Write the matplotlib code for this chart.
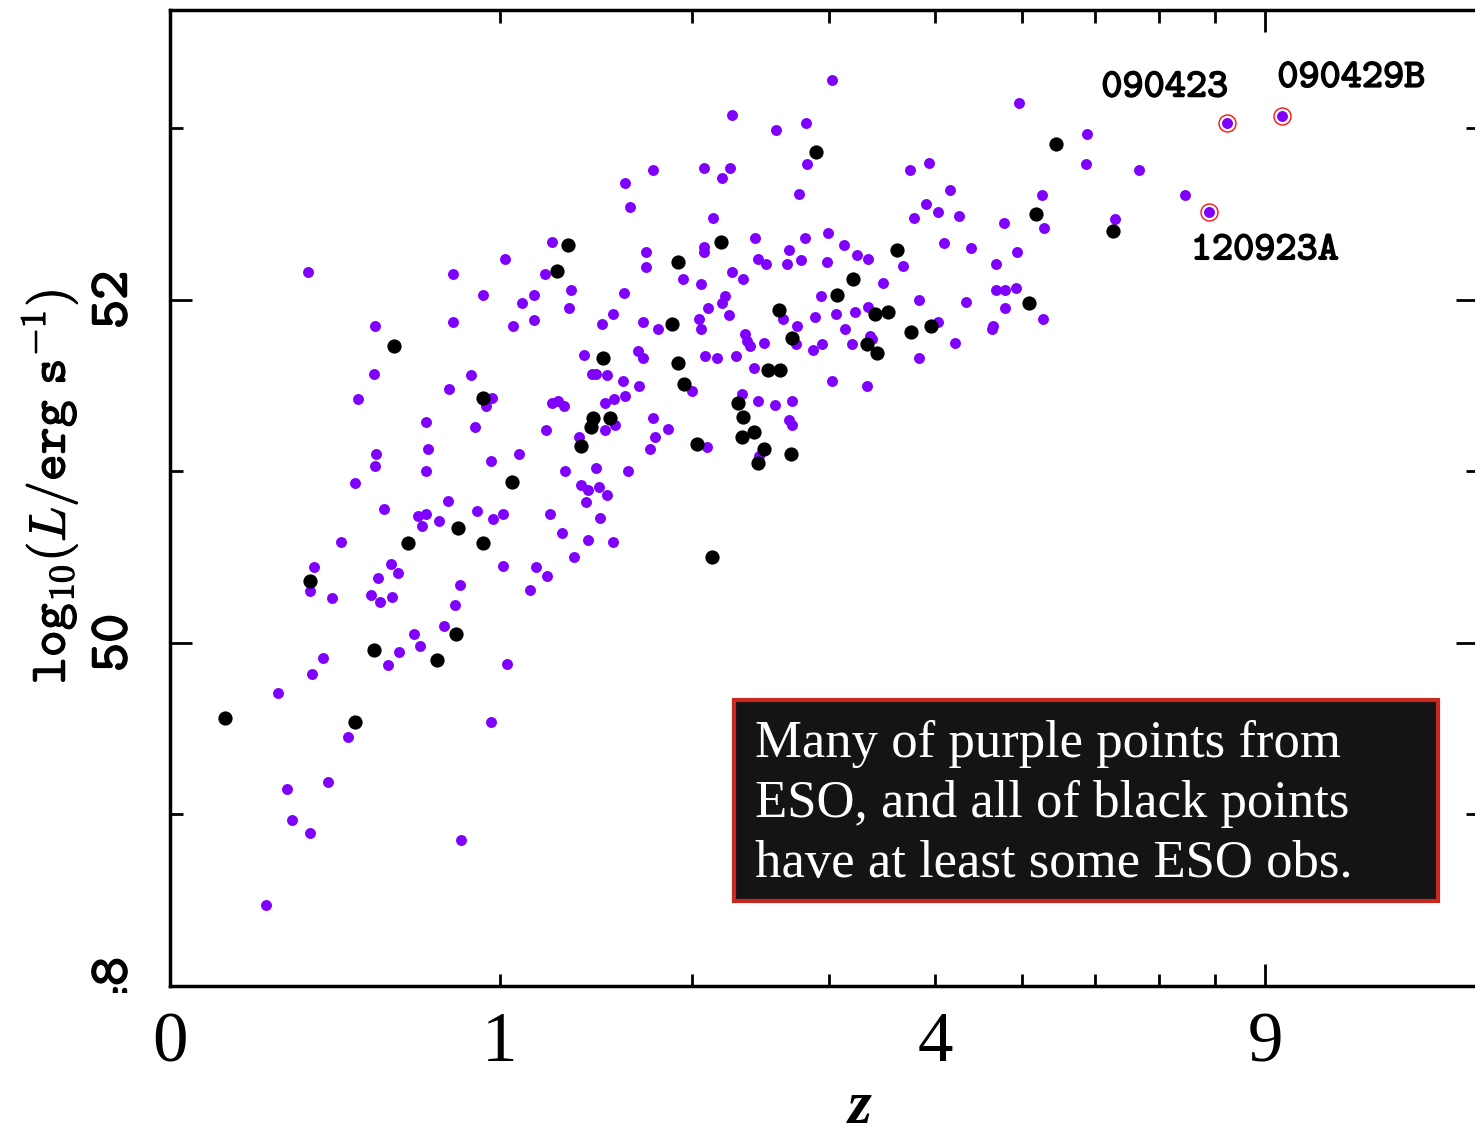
import numpy as np
import matplotlib
matplotlib.use("Agg")
import matplotlib.pyplot as plt
import matplotlib.patheffects as pe
from matplotlib.patches import Rectangle
from matplotlib.transforms import Bbox

plt.rcParams['mathtext.fontset'] = 'cm'

# ---------------- data ----------------
purple_z = [
    .337, .813, 1.023, 1.233, 1.201, .931, 1.150, 1.096, 1.324, 1.315,
    .539, .813, 1.057, 1.150, .536, .883, .798, .968, .944, .485,
    1.233, 1.262, 1.290, .714, .899, 1.205, 1.363, .542, .539, .721,
    .714, .964, 1.083, 1.295, 1.373, .476, .568, .794, .685, .714,
    .699, .760, .907, .972, 1.014, 1.224, 1.281, 1.339, .433, .354,
    .592, .615, 1.014, 1.159, 1.210, .549,
    .342, .406, 1.132, .526, .555, .595, .840, .821, .779, .671,
    .692, .619, .582, 1.031, .380, .348, .255, .454, .964, .395,
    .279, .292, .342, .844, .224,
    3.025, 2.262, 2.577, 2.811, 2.819, 1.762, 2.074, 2.248, 2.194, 1.604,
    1.632, 2.754, 2.134, 3.742, 3.936, 3.904, 3.782, 4.029, 2.423, 2.803,
    2.991, 3.127, 2.074, 2.074, 1.722, 1.722, 2.444, 2.503, 2.677, 2.661,
    2.770, 2.983, 3.242, 3.341, 3.672, 2.262, 2.337, 1.942, 2.055, 3.480,
    1.598, 2.932, 2.214, 2.194, 2.101, 1.539, 1.481, 1.704, 1.792, 2.042,
    2.055, 2.241, 2.630, 2.884, 3.058, 3.224, 3.341, 3.832, 2.739, 2.352,
    2.366, 2.387, 2.731, 2.488, 2.867, 2.941, 3.136, 3.198, 3.360, 3.378,
    3.832, 1.388, 1.676, 1.704, 2.081, 2.160, 2.289,
    2.415, 3.025, 3.332, 1.429, 1.450, 1.507, 1.593, 1.681, 1.998, 1.497,
    1.544, 1.604, 2.330, 2.444, 2.570, 2.700, 1.550, 1.497, 1.762, 1.851,
    1.774, 1.745, 2.677, 2.700, 2.094, 2.451, 1.450, 1.620, 1.409, 1.465,
    1.507, 1.399, 1.470, 1.409, 1.539,
    4.963, 5.881, 5.866, 6.674, 4.158, 4.255, 5.259, 5.285, 4.778, 7.455,
    6.298, 4.093, 4.391, 4.938, 4.682, 4.682, 4.791, 4.926, 4.334, 4.791,
    5.272, 4.029, 4.646, 4.635, 4.212,
]
purple_logL = [
    52.16, 52.15, 52.24, 52.34, 52.15, 52.03, 52.03, 51.98, 52.06, 51.95,
    51.85, 51.87, 51.85, 51.88, 51.57, 51.56, 51.48, 51.43, 51.38, 51.42,
    51.40, 51.41, 51.38, 51.29, 51.26, 51.24, 51.20, 51.10, 51.03, 51.13,
    51.00, 51.06, 51.10, 51.00, 50.92, 50.93, 50.78, 50.83, 50.74, 50.75,
    50.68, 50.71, 50.77, 50.72, 50.75, 50.75, 50.64, 50.50, 50.59, 50.44,
    50.46, 50.41, 50.45, 50.44, 50.39, 50.38,
    50.30, 50.26, 50.31, 50.28, 50.24, 50.27, 50.34, 50.22, 50.10, 50.05,
    49.98, 49.95, 49.87, 49.88, 49.91, 49.82, 49.71, 49.45, 49.54, 49.19,
    49.15, 48.97, 48.89, 48.85, 48.47,
    53.28, 53.08, 52.99, 53.03, 52.79, 52.76, 52.77, 52.77, 52.71, 52.68,
    52.54, 52.62, 52.48, 52.76, 52.80, 52.56, 52.48, 52.51, 52.36, 52.36,
    52.39, 52.32, 52.31, 52.28, 52.28, 52.19, 52.24, 52.21, 52.29, 52.21,
    52.23, 52.22, 52.26, 52.24, 52.20, 52.16, 52.12, 52.12, 52.09, 52.10,
    52.04, 52.02, 52.02, 51.98, 51.95, 51.92, 51.86, 51.87, 51.83, 51.89,
    51.83, 51.91, 51.89, 51.90, 51.92, 51.93, 51.96, 52.00, 51.85, 51.80,
    51.76, 51.73, 51.74, 51.75, 51.71, 51.74, 51.83, 51.74, 51.79, 51.77,
    51.66, 51.68, 51.70, 51.66, 51.67, 51.66, 51.67,
    51.60, 51.53, 51.50, 51.57, 51.57, 51.56, 51.53, 51.50, 51.47, 51.40,
    51.42, 51.44, 51.45, 51.41, 51.39, 51.41, 51.27, 51.24, 51.31, 51.25,
    51.20, 51.13, 51.30, 51.27, 51.14, 51.09, 51.02, 51.00, 50.89, 50.91,
    50.86, 50.82, 50.73, 50.60, 50.59,
    53.15, 52.97, 52.79, 52.76, 52.64, 52.49, 52.61, 52.42, 52.45, 52.61,
    52.47, 52.33, 52.30, 52.28, 52.21, 52.06, 52.06, 52.07, 51.99, 51.95,
    51.89, 51.87, 51.85, 51.83, 51.75,
]

black_z = [
    .123, .342, .476, .536, .602, .650, .753, .825, .832, .931,
    .931, 1.053, 1.257, 1.310, 1.373, 1.424, 1.435, 1.486, 1.523, 1.875,
    1.911, 1.911, 1.948, 2.029, 2.127, 2.187, 2.302, 2.330, 2.337, 2.415,
    2.444, 2.488, 2.518, 2.600, 2.607, 2.692, 2.700, 2.892, 3.067, 3.206,
    3.332, 3.405, 3.424, 3.527, 3.613, 3.752, 3.956, 5.091, 5.181, 5.446,
    6.268,
]
black_logL = [
    49.56, 50.36, 49.54, 49.96, 51.73, 50.58, 49.90, 50.05, 50.67, 51.43,
    50.58, 50.94, 52.17, 52.32, 51.15, 51.26, 51.31, 51.66, 51.31, 51.86,
    52.22, 51.63, 51.51, 51.16, 50.50, 52.34, 51.40, 51.20, 51.32, 51.23,
    51.05, 51.13, 51.59, 51.94, 51.59, 51.10, 51.78, 52.86, 52.03, 52.12,
    51.74, 51.92, 51.69, 51.93, 52.29, 51.81, 51.85, 51.98, 52.50, 52.91,
    52.40,
]

special_names = ["090423", "090429B", "120923A"]
special_z = [8.236, 9.36, 7.893]
special_logL = [53.03, 53.07, 52.51]

x_major = [0, 1, 4, 9]
x_minor = [2, 3, 5, 6, 7, 8]
y_major = [48, 50, 52]
y_minor = [49, 51, 53]

note_text = ("Many of purple points from\n"
             "ESO, and all of black points\n"
             "have at least some ESO obs.")

# ---------------- figure ----------------
W, H = 1475, 1146
TT = 'cmtt10'
bold_fx = [pe.withStroke(linewidth=1.1, foreground='black')]
fig = plt.figure(figsize=(W / 100, H / 100), dpi=100)
ax = fig.add_axes([170 / W, 160 / H, 1308 / W, 976 / H])


def fwd(z):
    return np.log10(np.maximum(1 + np.asarray(z, dtype=float), 1e-6))


def inv(t):
    return 10 ** np.asarray(t, dtype=float) - 1


ax.set_xscale('function', functions=(fwd, inv))
ax.set_xlim(0, 14.65)
ax.set_ylim(48.0, 53.69)

purple = '#7f00ff'
ax.scatter(purple_z, purple_logL, s=62, c=purple, linewidths=0, zorder=3)
ax.scatter(black_z, black_logL, s=105, c='black', linewidths=0, zorder=4)
ax.scatter(special_z, special_logL, s=150, facecolors='white',
           edgecolors='#ff1010', linewidths=1.0, zorder=5)
ax.scatter(special_z, special_logL, s=62, c=purple, linewidths=0, zorder=6)

offsets = [(-45, 25), (50, 27), (40, -28)]
for name, zz, ll, off in zip(special_names, special_z, special_logL, offsets):
    ax.annotate(name, (zz, ll), xytext=off, family=TT,
                textcoords='offset points', ha='center', va='center',
                fontsize=29, zorder=7, path_effects=bold_fx)

for sp in ax.spines.values():
    sp.set_linewidth(2.5)

ax.set_xticks(x_major)
ax.set_xticks(x_minor, minor=True)
ax.set_xticklabels([str(v) for v in x_major], fontsize=51,
                   family='Liberation Serif')
ax.set_yticks(y_major)
ax.set_yticks(y_minor, minor=True)
ax.set_yticklabels([str(v) for v in y_major], fontsize=40, family=TT,
                   rotation=90, va='center')
for lab in ax.get_yticklabels():
    lab.set_path_effects(bold_fx)

ax.tick_params(axis='x', which='both', direction='in', top=True,
               length=9, width=2, pad=18)
ax.tick_params(axis='y', which='major', direction='in', right=True,
               length=16, width=2, pad=22)
ax.tick_params(axis='y', which='minor', direction='in', right=True,
               length=9, width=2)

fig.canvas.draw()
t9 = ax.xaxis.get_major_ticks()[3]
t9.tick1line.set_markersize(16)
t9.tick2line.set_markersize(16)
for tk in ax.yaxis.get_major_ticks():
    tk.label1.set_path_effects(bold_fx)
lab48 = ax.yaxis.get_major_ticks()[0].label1
lab48.set_clip_on(True)
lab48.set_clip_box(Bbox.from_extents(0, H - 993, W, H))

# annotation box
ax.add_patch(Rectangle((0.4312, 0.0871), 0.5382, 0.2059,
                       transform=ax.transAxes, facecolor='#141414',
                       edgecolor='#c8281e', linewidth=3, zorder=8))
ax.text(0.4472, 0.2726, note_text, transform=ax.transAxes, color='white',
        fontsize=38, family='Liberation Serif', va='top', ha='left',
        linespacing=1.33, zorder=9)

fig.text(50 / W, 1 - 487 / H, r'$\mathtt{log}_{10}(L/\mathtt{erg\ s}^{-1})$',
         rotation=90, ha='center', va='center', fontsize=37,
         path_effects=[pe.withStroke(linewidth=0.8, foreground='black')])
fig.text(860 / W, 1 - 1108 / H, 'z', fontsize=44, family='Liberation Serif',
         style='italic', weight='bold', ha='center', va='center')

fig.savefig('out.png', dpi=100)
